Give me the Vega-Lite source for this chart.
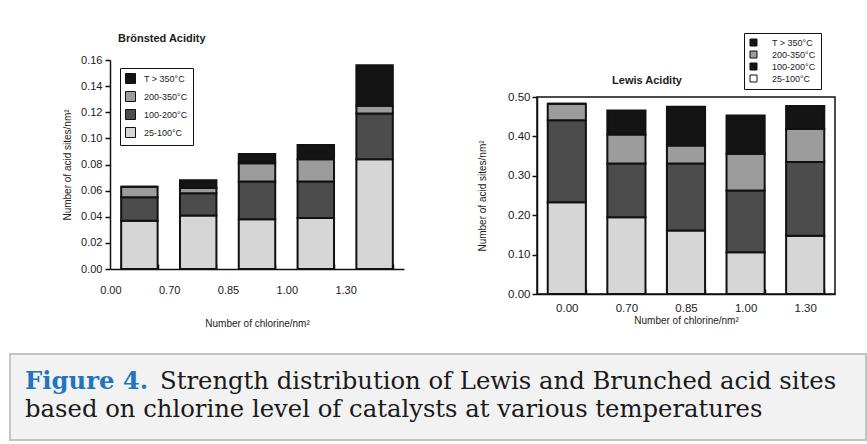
{
  "$schema": "https://vega.github.io/schema/vega-lite/v6.json",
  "background": "white",
  "padding": {"left": 9, "top": 32, "right": 0, "bottom": 0},
  "config": {
    "view": {"stroke": null},
    "font": "Liberation Sans",
    "legend": {"strokeColor": "#111", "fillColor": "white"},
    "axis": {
      "domainColor": "#111", "domainWidth": 1.5, "tickColor": "#111", "tickWidth": 1.5,
      "labelColor": "#1a1a1a", "labelFontSize": 11, "labelFont": "Liberation Sans",
      "titleFont": "Liberation Sans", "titleFontSize": 10, "titleFontWeight": "normal",
      "titleColor": "#1a1a1a", "grid": false
    }
  },
  "datasets": {
    "bronsted": [
      {"chlorine": "0.00", "range": "25-100°C", "rank": 1, "sites": 0.037},
      {"chlorine": "0.00", "range": "100-200°C", "rank": 2, "sites": 0.018},
      {"chlorine": "0.00", "range": "200-350°C", "rank": 3, "sites": 0.008},
      {"chlorine": "0.00", "range": "T > 350°C", "rank": 4, "sites": 0.0},
      {"chlorine": "0.70", "range": "25-100°C", "rank": 1, "sites": 0.041},
      {"chlorine": "0.70", "range": "100-200°C", "rank": 2, "sites": 0.017},
      {"chlorine": "0.70", "range": "200-350°C", "rank": 3, "sites": 0.004},
      {"chlorine": "0.70", "range": "T > 350°C", "rank": 4, "sites": 0.006},
      {"chlorine": "0.85", "range": "25-100°C", "rank": 1, "sites": 0.038},
      {"chlorine": "0.85", "range": "100-200°C", "rank": 2, "sites": 0.029},
      {"chlorine": "0.85", "range": "200-350°C", "rank": 3, "sites": 0.014},
      {"chlorine": "0.85", "range": "T > 350°C", "rank": 4, "sites": 0.007},
      {"chlorine": "1.00", "range": "25-100°C", "rank": 1, "sites": 0.039},
      {"chlorine": "1.00", "range": "100-200°C", "rank": 2, "sites": 0.028},
      {"chlorine": "1.00", "range": "200-350°C", "rank": 3, "sites": 0.017},
      {"chlorine": "1.00", "range": "T > 350°C", "rank": 4, "sites": 0.011},
      {"chlorine": "1.30", "range": "25-100°C", "rank": 1, "sites": 0.084},
      {"chlorine": "1.30", "range": "100-200°C", "rank": 2, "sites": 0.035},
      {"chlorine": "1.30", "range": "200-350°C", "rank": 3, "sites": 0.006},
      {"chlorine": "1.30", "range": "T > 350°C", "rank": 4, "sites": 0.031}
    ],
    "lewis": [
      {"chlorine": "0.00", "range": "25-100°C", "rank": 1, "sites": 0.233},
      {"chlorine": "0.00", "range": "100-200°C", "rank": 2, "sites": 0.208},
      {"chlorine": "0.00", "range": "200-350°C", "rank": 3, "sites": 0.042},
      {"chlorine": "0.00", "range": "T > 350°C", "rank": 4, "sites": 0.0},
      {"chlorine": "0.70", "range": "25-100°C", "rank": 1, "sites": 0.195},
      {"chlorine": "0.70", "range": "100-200°C", "rank": 2, "sites": 0.136},
      {"chlorine": "0.70", "range": "200-350°C", "rank": 3, "sites": 0.074},
      {"chlorine": "0.70", "range": "T > 350°C", "rank": 4, "sites": 0.061},
      {"chlorine": "0.85", "range": "25-100°C", "rank": 1, "sites": 0.161},
      {"chlorine": "0.85", "range": "100-200°C", "rank": 2, "sites": 0.170},
      {"chlorine": "0.85", "range": "200-350°C", "rank": 3, "sites": 0.046},
      {"chlorine": "0.85", "range": "T > 350°C", "rank": 4, "sites": 0.098},
      {"chlorine": "1.00", "range": "25-100°C", "rank": 1, "sites": 0.106},
      {"chlorine": "1.00", "range": "100-200°C", "rank": 2, "sites": 0.157},
      {"chlorine": "1.00", "range": "200-350°C", "rank": 3, "sites": 0.093},
      {"chlorine": "1.00", "range": "T > 350°C", "rank": 4, "sites": 0.097},
      {"chlorine": "1.30", "range": "25-100°C", "rank": 1, "sites": 0.148},
      {"chlorine": "1.30", "range": "100-200°C", "rank": 2, "sites": 0.187},
      {"chlorine": "1.30", "range": "200-350°C", "rank": 3, "sites": 0.084},
      {"chlorine": "1.30", "range": "T > 350°C", "rank": 4, "sites": 0.058}
    ],
    "caption": [
      {"part": "label", "line": 1, "text": "Figure 4."},
      {"part": "body1", "line": 1, "text": "Strength distribution of Lewis and Brunched acid sites"},
      {"part": "body2", "line": 2, "text": "based on chlorine level of catalysts at various temperatures"}
    ]
  },
  "spacing": 25,
  "align": "none",
  "resolve": {"scale": {"color": "independent"}, "legend": {"color": "independent"}},
  "vconcat": [
    {
      "spacing": 0,
      "align": "none",
      "resolve": {"scale": {"color": "independent"}, "legend": {"color": "independent"}},
      "hconcat": [
        {
          "width": 52,
          "height": 1,
          "data": {"values": []},
          "mark": {"type": "point", "opacity": 0},
          "encoding": {}
        },
        {
          "spacing": 72,
          "align": "none",
          "resolve": {"scale": {"color": "independent"}, "legend": {"color": "independent"}},
          "hconcat": [
            {
              "width": 294,
              "height": 209,
              "data": {"name": "bronsted"},
              "title": {"text": "Brönsted Acidity", "anchor": "start", "frame": "group", "dx": 8, "offset": 10, "fontSize": 11, "fontWeight": "bold", "color": "#1a1a1a", "font": "Liberation Sans"},
              "mark": {"type": "bar", "stroke": "#111", "strokeWidth": 2},
              "encoding": {
                "x": {
                  "field": "chlorine", "type": "ordinal",
                  "scale": {"paddingInner": 0.38, "paddingOuter": 0.19},
                  "axis": {"title": "Number of chlorine/nm²", "labelAngle": 0, "tickBand": "extent", "labelOffset": -29, "tickSize": -5, "labelPadding": 20, "titlePadding": 23}
                },
                "y": {
                  "field": "sites", "type": "quantitative", "stack": "zero",
                  "scale": {"domain": [0, 0.16]},
                  "axis": {"title": "Number of acid sites/nm²", "values": [0, 0.02, 0.04, 0.06, 0.08, 0.1, 0.12, 0.14, 0.16], "format": ".2f", "tickSize": 5, "labelPadding": 3, "titlePadding": 8}
                },
                "color": {
                  "field": "range", "type": "nominal",
                  "scale": {"domain": ["T > 350°C", "200-350°C", "100-200°C", "25-100°C"], "range": ["#141414", "#9c9c9c", "#4c4c4c", "#d6d6d6"]},
                  "legend": {"orient": "none", "legendX": 10, "legendY": 8, "title": null, "strokeColor": "#111", "fillColor": "white", "padding": 5, "rowPadding": 3, "symbolType": "square", "symbolSize": 100, "symbolStrokeColor": "#111", "symbolStrokeWidth": 1, "labelFontSize": 9, "labelColor": "#1a1a1a", "labelOffset": 8}
                },
                "order": {"field": "rank", "type": "quantitative"}
              }
            },
            {
              "spacing": 0,
              "align": "none",
              "resolve": {"scale": {"color": "independent"}, "legend": {"color": "independent"}},
              "vconcat": [
                {
                  "width": 298,
                  "height": 24,
                  "data": {"name": "lewis"},
                  "title": {"text": "Lewis Acidity", "orient": "bottom", "anchor": "middle", "frame": "group", "dx": -39, "offset": -15, "fontSize": 11, "fontWeight": "bold", "color": "#1a1a1a", "font": "Liberation Sans"},
                  "mark": {"type": "bar", "opacity": 0},
                  "encoding": {
                    "color": {
                      "field": "range", "type": "nominal",
                      "scale": {"domain": ["T > 350°C", "200-350°C", "100-200°C", "25-100°C"], "range": ["#141414", "#9c9c9c", "#141414", "#ffffff"]},
                      "legend": {"orient": "none", "legendX": 207, "legendY": -27, "title": null, "strokeColor": "#111", "fillColor": "white", "padding": 5, "rowPadding": 1, "symbolType": "square", "symbolSize": 49, "symbolOpacity": 1, "symbolStrokeColor": "#111", "symbolStrokeWidth": 1, "labelFontSize": 9, "labelColor": "#1a1a1a", "labelOffset": 14}
                    }
                  }
                },
                {
                  "width": 298,
                  "height": 197,
                  "view": {"stroke": "#111", "strokeWidth": 1.5},
                  "data": {"name": "lewis"},
                  "mark": {"type": "bar", "stroke": "#111", "strokeWidth": 2},
                  "encoding": {
                    "x": {
                      "field": "chlorine", "type": "ordinal",
                      "scale": {"paddingInner": 0.36, "paddingOuter": 0.18},
                      "axis": {"title": "Number of chlorine/nm²", "labelAngle": 0, "tickBand": "extent", "tickSize": -5, "labelPadding": 13, "titlePadding": 2, "labelFontSize": 11.5}
                    },
                    "y": {
                      "field": "sites", "type": "quantitative", "stack": "zero",
                      "scale": {"domain": [0, 0.5]},
                      "axis": {"title": "Number of acid sites/nm²", "values": [0, 0.1, 0.2, 0.3, 0.4, 0.5], "format": ".2f", "tickSize": 5, "labelPadding": 2, "titlePadding": 20, "labelFontSize": 11.5}
                    },
                    "color": {
                      "field": "range", "type": "nominal",
                      "scale": {"domain": ["T > 350°C", "200-350°C", "100-200°C", "25-100°C"], "range": ["#141414", "#9c9c9c", "#4c4c4c", "#d6d6d6"]},
                      "legend": null
                    },
                    "order": {"field": "rank", "type": "quantitative"}
                  }
                }
              ]
            }
          ]
        }
      ]
    },
    {
      "width": 856,
      "height": 86,
      "view": {"fill": "#f2f2f2", "stroke": "#c4c4c4", "strokeWidth": 2},
      "data": {"name": "caption"},
      "encoding": {
        "x": {"datum": 0, "type": "quantitative", "scale": {"domain": [0, 1]}, "axis": null},
        "y": {"field": "line", "type": "quantitative", "scale": {"domain": [0, 3.071], "reverse": true}, "axis": null},
        "text": {"field": "text", "type": "nominal"}
      },
      "layer": [
        {"transform": [{"filter": "datum.part === 'label'"}], "mark": {"type": "text", "align": "left", "baseline": "middle", "dx": 15, "font": "DejaVu Serif", "fontSize": 24.3, "fontWeight": "bold", "color": "#1f76bf"}},
        {"transform": [{"filter": "datum.part === 'body1'"}], "mark": {"type": "text", "align": "left", "baseline": "middle", "dx": 150, "font": "DejaVu Serif", "fontSize": 24.3, "color": "#1a1a1a"}},
        {"transform": [{"filter": "datum.part === 'body2'"}], "mark": {"type": "text", "align": "left", "baseline": "middle", "dx": 15, "font": "DejaVu Serif", "fontSize": 24.3, "color": "#1a1a1a"}}
      ]
    }
  ]
}
